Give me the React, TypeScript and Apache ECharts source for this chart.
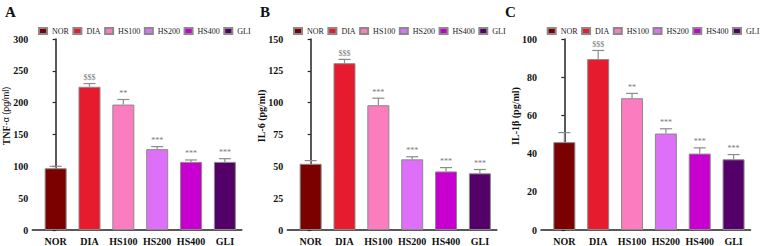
import React, { useEffect, useRef } from "react";
import * as echarts from "echarts";

const categories = ["NOR", "DIA", "HS100", "HS200", "HS400", "GLI"];
const colors = ["#7b0000", "#e61c2e", "#fb7dbf", "#de6ff9", "#c700cf", "#530068"];

const tnfMean = [97, 225, 197, 127, 107, 107];
const tnfErr = [3, 5, 8, 4, 3, 5];
const tnfSig = ["", "$$$", "**", "***", "***", "***"];

const il6Mean = [52, 131, 98, 55.5, 46, 44.5];
const il6Err = [2.5, 3, 5.5, 2, 3, 3];
const il6Sig = ["", "$$$", "***", "***", "***", "***"];

const il1Mean = [46, 89.5, 69, 50.5, 40, 37];
const il1Err = [5, 4.5, 2.5, 2.5, 3, 2.5];
const il1Sig = ["", "$$$", "**", "***", "***", "***"];

const yMax = [300, 150, 100];
const yInterval = [50, 25, 20];

const SERIF = "'Liberation Serif', 'Times New Roman', serif";
const SANS = "'Liberation Sans', Arial, sans-serif";

export default function App() {
  const ref = useRef<HTMLDivElement>(null);
  useEffect(() => {
    if (!ref.current) return;
    const chart = echarts.init(ref.current, undefined, { renderer: "svg" });
    const panels = [
      { mean: tnfMean, err: tnfErr, sig: tnfSig, left: 32.3, letterX: 5, titleX: 6 },
      { mean: il6Mean, err: il6Err, sig: il6Sig, left: 287.3, letterX: 260, titleX: 261 },
      { mean: il1Mean, err: il1Err, sig: il1Sig, left: 541, letterX: 505, titleX: 515 },
    ];
    const grids: any[] = [];
    const xAxes: any[] = [];
    const yAxes: any[] = [];
    const legends: any[] = [];
    const series: any[] = [];
    panels.forEach((p, k) => {
      grids.push({ left: p.left, top: 39, width: 209.5, height: 191 });
      xAxes.push({
        type: "value",
        gridIndex: k,
        min: -0.69,
        max: 5.5,
        splitLine: { show: false },
        axisTick: { show: false },
        axisLine: { show: true, lineStyle: { color: "#222", width: 1.5 } },
        axisLabel: {
          customValues: [0, 1, 2, 3, 4, 5],
          formatter: (v: number) => categories[Math.round(v)] ?? "",
          fontFamily: SERIF,
          fontWeight: "bold",
          fontSize: 10,
          color: "#111",
          margin: 6,
        },
      });
      yAxes.push({
        type: "value",
        gridIndex: k,
        min: 0,
        max: yMax[k],
        interval: yInterval[k],
        splitLine: { show: false },
        axisLine: { show: true, lineStyle: { color: "#222", width: 1.5 } },
        axisTick: { show: true, length: 3, lineStyle: { color: "#222", width: 1.2 } },
        axisLabel: {
          fontFamily: SERIF,
          fontWeight: "bold",
          fontSize: 10,
          color: "#111",
          margin: 4,
        },
      });
      legends.push({
        data: categories,
        orient: "horizontal",
        left: p.left + 5.7,
        top: 27,
        width: 300,
        itemWidth: 8,
        itemHeight: 6,
        itemGap: 3.5,
        icon: "rect",
        padding: 0,
        selectedMode: false,
        textStyle: { fontFamily: SERIF, fontSize: 8, color: "#222" },
      });
      categories.forEach((c, i) => {
        series.push({
          type: "bar",
          name: c,
          xAxisIndex: k,
          yAxisIndex: k,
          barWidth: 22,
          barGap: "-100%",
          itemStyle: { color: colors[i], borderColor: "#8a8a8a", borderWidth: 1 },
          data: [[i, p.mean[i]]],
          z: 2,
        });
      });
      series.push({
        type: "custom",
        name: "err" + k,
        xAxisIndex: k,
        yAxisIndex: k,
        z: 5,
        data: p.mean.map((m, i) => [i, m, p.err[i]]),
        renderItem: (params: any, api: any) => {
          const x = api.value(0);
          const m = api.value(1);
          const e = api.value(2);
          const p0 = api.coord([x, m]);
          const p1 = api.coord([x, m + e]);
          const style = { stroke: "#8c8c8c", lineWidth: 1.2 };
          return {
            type: "group",
            children: [
              { type: "line", shape: { x1: p0[0], y1: p0[1], x2: p1[0], y2: p1[1] }, style },
              { type: "line", shape: { x1: p1[0] - 6, y1: p1[1], x2: p1[0] + 6, y2: p1[1] }, style },
              {
                type: "text",
                x: p1[0],
                y: p1[1] - 2,
                style: {
                  text: p.sig[params.dataIndex],
                  align: "center",
                  verticalAlign: "bottom",
                  fontFamily: SERIF,
                  fontSize: 8,
                  fill: "#777",
                },
              },
            ],
          };
        },
      });
    });

    const letters = ["A", "B", "C"];
    const titles = [
      { text: "{b|TNF}{s|-α (pg/ml)}" },
      { text: "{b|IL-6 (pg/ml)}" },
      { text: "{b|IL-1β (pg/ml)}" },
    ];
    const graphic: any[] = [];
    panels.forEach((p, k) => {
      graphic.push({
        type: "text",
        left: p.letterX,
        top: 4,
        style: { text: letters[k], fontFamily: SERIF, fontWeight: "bold", fontSize: 15, fill: "#111" },
      });
      graphic.push({
        type: "text",
        x: p.titleX,
        y: 116,
        rotation: Math.PI / 2,
        style: {
          text: titles[k].text,
          align: "center",
          verticalAlign: "middle",
          rich: {
            b: { fontFamily: SERIF, fontWeight: "bold", fontSize: 10, fill: "#111" },
            s: { fontFamily: SANS, fontSize: 9, fill: "#111" },
          },
        },
      });
    });

    chart.setOption({
      animation: false,
      backgroundColor: "#ffffff",
      grid: grids,
      xAxis: xAxes,
      yAxis: yAxes,
      legend: legends,
      series,
      graphic,
    });
    return () => chart.dispose();
  }, []);
  return (
    <div
      ref={ref}
      style={{ position: "fixed", left: 0, top: 0, width: 765, height: 246, background: "#fff" }}
    />
  );
}
